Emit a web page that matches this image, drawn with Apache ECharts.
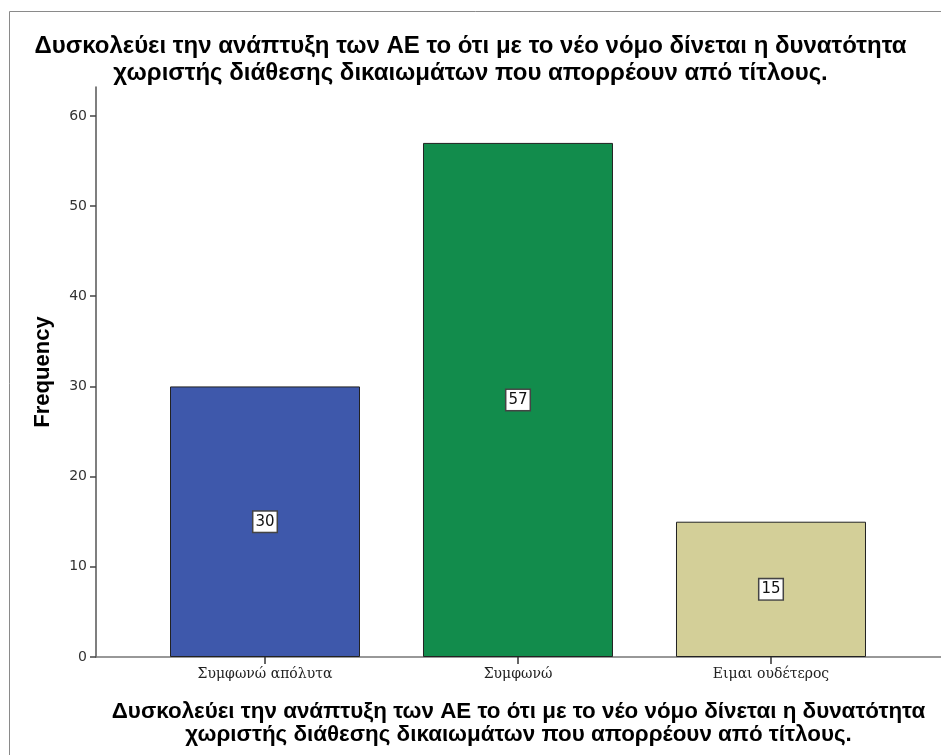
<!DOCTYPE html>
<html>
<head>
<meta charset="utf-8">
<script src="https://cdn.jsdelivr.net/npm/echarts@6/dist/echarts.min.js"></script>
<style>
  html, body { margin: 0; padding: 0; background: #fff; }
  #chart { width: 941px; height: 755px; }
</style>
</head>
<body>
<div id="chart"></div>
<script>
// κατηγορίες και συχνότητες
const categories = ["Συμφωνώ απόλυτα", "Συμφωνώ", "Ειμαι ουδέτερος"];
const frequencies = [30, 57, 15];
const yTicks = [0, 10, 20, 30, 40, 50, 60];
const titleText = "Δυσκολεύει την ανάπτυξη των ΑΕ το ότι με το νέο νόμο δίνεται η δυνατότητα\nχωριστής διάθεσης δικαιωμάτων που απορρέουν από τίτλους.";
const barColors = ["#3e58ab", "#128c4c", "#d3cf98"];

const chart = echarts.init(document.getElementById("chart"));

const option = {
  animation: false,
  title: {
    text: titleText,
    left: "center",
    top: 28,
    textStyle: {
      fontFamily: "Liberation Sans",
      fontWeight: "bold",
      fontSize: 24,
      lineHeight: 27,
      color: "#000",
    },
  },
  // frame
  graphic: [
    {
      type: "rect",
      shape: { x: 9.5, y: 11.5, width: 1000, height: 1000 },
      style: { fill: "none", stroke: "#8a8a8a", lineWidth: 1 },
      silent: true,
    },
  ],
  grid: {
    left: 96,
    right: 0,
    top: 87,
    bottom: 98,
  },
  xAxis: {
    type: "value",
    min: 0.332,
    max: 3.672,
    name: titleText,
    nameLocation: "middle",
    nameGap: 43,
    nameTextStyle: {
      fontFamily: "Liberation Sans",
      fontWeight: "bold",
      fontSize: 22.4,
      lineHeight: 23,
      color: "#000",
    },
    splitLine: { show: false },
    axisLine: { lineStyle: { color: "#777", width: 1.5 } },
    axisTick: {
      length: 7,
      customValues: [1, 2, 3],
      lineStyle: { color: "#333", width: 1.5 },
    },
    axisLabel: {
      customValues: [1, 2, 3],
      formatter: (v) => categories[Math.round(v) - 1],
      fontFamily: "DejaVu Serif",
      fontSize: 14,
      color: "#222",
      margin: 10,
    },
  },
  yAxis: {
    type: "value",
    min: 0,
    max: 63.2,
    name: "Frequency",
    nameLocation: "middle",
    nameGap: 42,
    nameTextStyle: {
      fontFamily: "Liberation Sans",
      fontWeight: "bold",
      fontSize: 22,
      color: "#000",
    },
    splitLine: { show: false },
    axisLine: { show: true, lineStyle: { color: "#555", width: 1.5 } },
    axisTick: {
      show: true,
      length: 6,
      customValues: yTicks,
      lineStyle: { color: "#444", width: 1.5 },
    },
    axisLabel: {
      customValues: yTicks,
      fontFamily: "DejaVu Sans",
      fontSize: 14,
      color: "#333",
      margin: 9,
    },
  },
  series: [
    {
      type: "bar",
      barWidth: 190,
      data: frequencies.map((v, i) => ({
        value: [i + 1, v],
        itemStyle: { color: barColors[i] },
      })),
      itemStyle: { borderColor: "#222", borderWidth: 1 },
      label: {
        show: true,
        position: "inside",
        formatter: (p) => p.value[1],
        fontFamily: "DejaVu Sans",
        fontSize: 15,
        color: "#111",
        backgroundColor: "#fff",
        borderColor: "#444",
        borderWidth: 1.5,
        padding: [3, 2, 2, 2],
      },
    },
  ],
};

chart.setOption(option);
</script>
</body>
</html>
